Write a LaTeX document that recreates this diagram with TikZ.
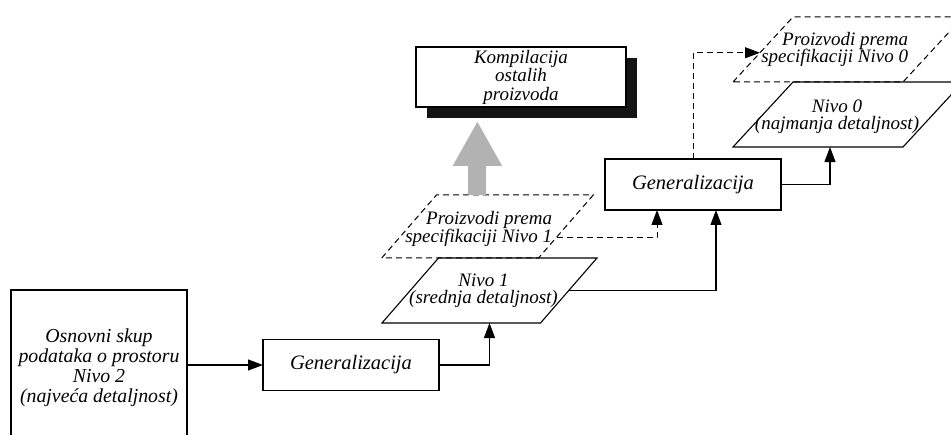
\documentclass[tikz,border=0pt]{standalone}
\usepackage{fontspec}
\setmainfont{Liberation Serif}
\usetikzlibrary{shapes.geometric,arrows.meta,calc}
\begin{document}
\begin{tikzpicture}[x=1pt,y=-1pt,
  every node/.style={inner sep=0pt, outer sep=0pt},
  bigfont/.style={font=\fontsize{20.5}{19.5}\selectfont\itshape},
  smallfont/.style={font=\fontsize{19}{17.5}\selectfont\itshape},
  box/.style={draw, line width=1.1pt, fill=white, align=center, minimum width=176pt, minimum height=51pt, bigfont},
  para/.style={trapezium, draw, line width=1.1pt, minimum width=0pt, minimum height=0pt},
  paraA/.style={para, trapezium left angle=49, trapezium right angle=131, inner xsep=51pt, inner ysep=32.5pt},
  paraB/.style={para, trapezium left angle=47.3, trapezium right angle=132.7, inner xsep=55pt, inner ysep=32.5pt},
  dashedline/.style={dash pattern=on 6pt off 4pt, line width=1pt},
  ptext/.style={align=center, smallfont},
  conn/.style={draw, line width=1.1pt, -{Triangle[length=15pt,width=11pt]}},
  dconn/.style={conn, dashedline}
]
\useasboundingbox (0,0) rectangle (951,435);
\clip (0,0) rectangle (951,435);

% base data set (bottom edge runs past the picture)
\node[box, minimum height=155pt, font=\fontsize{19.8}{20}\selectfont\itshape] (base) at (99,367.5)
  {Osnovni skup\\podataka o prostoru\\Nivo 2\\(najveća detaljnost)};

\node[box] (g1) at (351,365) {Generalizacija};
\node[box] (g2) at (693,184.5) {Generalizacija};

% level 1
\node[paraA] (n1) at (489.5,290.5) {};
\node[ptext] (t1) at ([xshift=-6pt]n1.center) {Nivo 1\\(srednja detaljnost)};
\node[paraA, dashedline, inner ysep=31.5pt] (d1) at (487.5,226.5) {};
\node[ptext, align=right, anchor=east] (td1) at ([xshift=64.5pt,yshift=-2.5pt]d1.center) {Proizvodi prema\\specifikaciji Nivo 1};

% level 0
\node[paraB] (n0) at (848,114.5) {};
\node[ptext] (t0) at ([xshift=-11pt,yshift=-2pt]n0.center) {Nivo 0\\(najmanja detaljnost)};
\node[paraB, dashedline] (d0) at (848,49.5) {};
\node[ptext, align=right, anchor=east] (td0) at ([xshift=60pt]d0.center) {Proizvodi prema\\specifikaciji Nivo 0};

% compilation box with its black shadow
\node[fill=black!92, minimum width=210pt, minimum height=60pt] (kks) at (532,88) {};
\node[draw, line width=1.1pt, fill=white, minimum width=210pt, minimum height=60pt, align=center,
  font=\fontsize{19}{18.5}\selectfont\itshape] (kk) at (521,77)
  {Kompilacija\\ostalih\\proizvoda};

% connectors
\path[conn] (base.east |- g1.west) -- (g1.west);
\path[conn] (g1.east) -| (n1.south);
\path[conn] (n1.east) -| ([xshift=23pt]g2.south);
\path[dconn] ($(d1.bottom right corner)!0.33!(d1.top right corner)$) -| ([xshift=-36pt]g2.south);
\path[dconn] (g2.north) |- ($(d0.bottom left corner)!0.45!(d0.top left corner)$);
\path[conn] (g2.east) -| ([xshift=-18pt]n0.south);

% grey block arrow
\coordinate (ga) at ([xshift=-37.5pt]d1.top side);
\coordinate (gb) at ([yshift=-14pt]ga |- kk.south);
\draw[line width=18pt, black!30, -{Triangle[length=45pt,width=46pt]}] (ga) -- (gb);
\end{tikzpicture}
\end{document}
